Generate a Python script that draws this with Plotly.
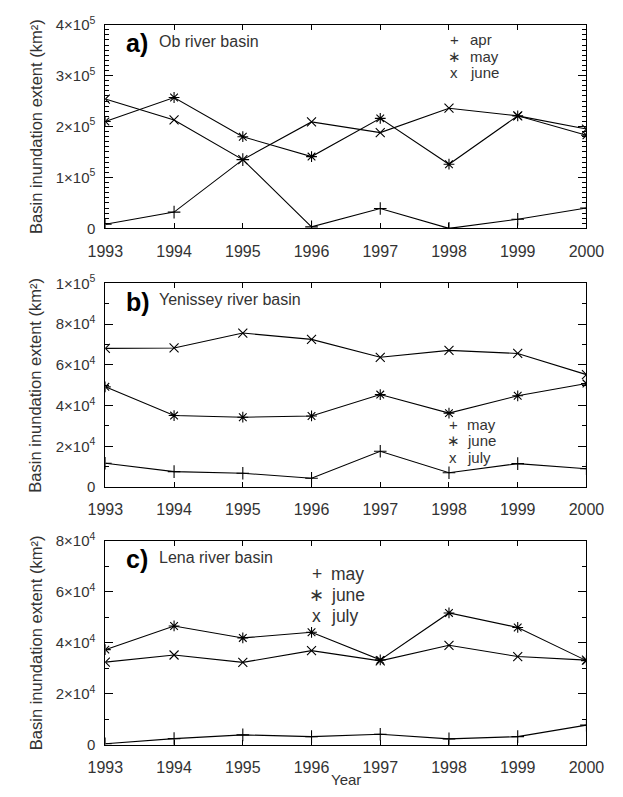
import plotly.graph_objects as go

# ---------------- data ----------------
years = [1993, 1994, 1995, 1996, 1997, 1998, 1999, 2000]

ob_apr = [8000, 32000, 135000, 3000, 39000, 0, 18000, 40000]
ob_may = [210000, 257000, 180000, 141000, 216000, 126000, 221000, 183000]
ob_june = [254000, 213000, 135000, 209000, 188000, 236000, 221000, 195000]

yen_may = [11700, 7600, 6800, 4300, 17600, 7000, 11500, 9000]
yen_june = [49200, 35100, 34300, 34900, 45400, 36300, 44800, 50800]
yen_july = [68100, 68300, 75600, 72500, 63700, 67100, 65600, 55200]

lena_may = [400, 2400, 3900, 3200, 4100, 2300, 3200, 7700]
lena_june = [37300, 46600, 41900, 44100, 33300, 51700, 46000, 33000]
lena_july = [32400, 35200, 32300, 36900, 32900, 39000, 34600, 33200]

ob_ticks = [0, 100000, 200000, 300000, 400000]
ob_ticktext = ["0", "1×10<sup>5</sup>", "2×10<sup>5</sup>", "3×10<sup>5</sup>", "4×10<sup>5</sup>"]
yen_ticks = [0, 20000, 40000, 60000, 80000, 100000]
yen_ticktext = ["0", "2×10<sup>4</sup>", "4×10<sup>4</sup>", "6×10<sup>4</sup>", "8×10<sup>4</sup>", "1×10<sup>5</sup>"]
lena_ticks = [0, 20000, 40000, 60000, 80000]
lena_ticktext = ["0", "2×10<sup>4</sup>", "4×10<sup>4</sup>", "6×10<sup>4</sup>", "8×10<sup>4</sup>"]

panel_tags = ["a)", "b)", "c)"]
panel_names = ["Ob river basin", "Yenissey river basin", "Lena river basin"]
legend_syms = ["+", "∗", "x"]
legend_a = ["apr", "may", "june"]
legend_b = ["may", "june", "july"]
legend_c = ["may", "june", "july"]
ytitle = "Basin inundation extent (km²)"
xtitle = "Year"

# ---------------- layout geometry ----------------
W, H = 623, 797
FONT = "Liberation Sans, Arial, sans-serif"
TXT = "#333333"

x_left, x_right = 92.7, 603.3
panels_px = [(14.0, 222.7), (279.0, 487.7), (542.7, 751.7)]  # top, bottom in px


def py(v):
    return 1 - v / H


def px(v):
    return v / W


fig = go.Figure()

series = [
    (ob_apr, ob_may, ob_june),
    (yen_may, yen_june, yen_july),
    (lena_may, lena_june, lena_july),
]
symbols = ["cross-thin-open", "asterisk-open", "x-thin-open"]
names_all = [legend_a, legend_b, legend_c]

for i, (grp, nms) in enumerate(zip(series, names_all)):
    xa = "x" if i == 0 else f"x{i+1}"
    ya = "y" if i == 0 else f"y{i+1}"
    for vals, sym, nm in zip(grp, symbols, nms):
        fig.add_trace(go.Scatter(
            x=years, y=vals, mode="lines+markers", name=nm,
            xaxis=xa, yaxis=ya, showlegend=False,
            line=dict(color="black", width=1.1),
            marker=dict(symbol=sym, size=9, color="black",
                        line=dict(color="black", width=1.1)),
        ))
    # empty trace so that the minor-tick overlay axis is drawn
    fig.add_trace(go.Scatter(x=[None], y=[None], xaxis=xa, yaxis=f"y{i+4}",
                             showlegend=False, hoverinfo="skip"))

yticks = [(ob_ticks, ob_ticktext, 400000, 10000),
          (yen_ticks, yen_ticktext, 100000, 10000),
          (lena_ticks, lena_ticktext, 80000, 10000)]

for i, ((top, bot), (tv, tt, ymax, mdt)) in enumerate(zip(panels_px, yticks)):
    sfx = "" if i == 0 else str(i + 1)
    msfx = str(i + 4)
    fig.update_layout(**{
        f"xaxis{sfx}": dict(
            domain=[px(x_left), px(x_right)], range=[1993, 2000],
            anchor=f"y{sfx}", tickmode="array", tickvals=years,
            ticktext=[str(y) for y in years],
            ticks="inside", ticklen=5, tickwidth=1, tickcolor="black",
            showline=True, linecolor="black", linewidth=1, mirror="ticks",
            showgrid=False, zeroline=False,
            tickfont=dict(family=FONT, size=16, color=TXT),
            ticklabelstandoff=8,
        ),
        f"yaxis{sfx}": dict(
            domain=[py(bot), py(top)], range=[0, ymax],
            anchor=f"x{sfx}", tickmode="array", tickvals=tv, ticktext=tt,
            ticks="inside", ticklen=8, tickwidth=1, tickcolor="black",
            showline=True, linecolor="black", linewidth=1, mirror="ticks",
            showgrid=False, zeroline=False,
            tickfont=dict(family=FONT, size=15, color=TXT),
            ticklabelstandoff=6,
        ),
        # overlay axis that only draws the minor tick marks
        f"yaxis{msfx}": dict(
            overlaying=f"y{sfx}", anchor=f"x{sfx}", side="left",
            range=[0, ymax], tickmode="linear", tick0=0, dtick=mdt,
            ticks="inside", ticklen=4, tickwidth=1, tickcolor="black",
            showticklabels=False, showline=True, linecolor="black",
            linewidth=1, mirror="ticks", showgrid=False, zeroline=False,
        ),
    })

annotations = []
# y titles
for (top, bot) in panels_px:
    annotations.append(dict(
        x=px(18.5), y=py((top + bot) / 2), xref="paper", yref="paper",
        text=ytitle, textangle=-90, showarrow=False,
        font=dict(family=FONT, size=16.5, color=TXT),
        xanchor="center", yanchor="middle"))

# panel tags and names
for (top, bot), tag, nm in zip(panels_px, panel_tags, panel_names):
    annotations.append(dict(
        x=px(113), y=py(top + 19), xref="paper", yref="paper",
        text=f"<b>{tag}</b>", showarrow=False,
        font=dict(family=FONT, size=25, color="black"),
        xanchor="left", yanchor="middle"))
    annotations.append(dict(
        x=px(147), y=py(top + 17), xref="paper", yref="paper",
        text=nm, showarrow=False,
        font=dict(family=FONT, size=16, color=TXT),
        xanchor="left", yanchor="middle"))

# legends: symbol and label as text, like the original
leg_specs = [
    (legend_a, 463, 479, [29.5, 46.5, 63.5], 15),
    (legend_b, 462, 475, [423.5, 440.5, 457.5], 15),
    (legend_c, 317, 331, [576.7, 598.3, 619.3], 17.5),
]
for items, sx, tx, lys, fs in leg_specs:
    for sym, txt, ly in zip(legend_syms, items, lys):
        annotations.append(dict(
            x=px(sx), y=py(ly), xref="paper", yref="paper",
            text=sym, showarrow=False,
            font=dict(family=FONT, size=fs, color=TXT),
            xanchor="center", yanchor="middle", borderpad=0))
        annotations.append(dict(
            x=px(tx), y=py(ly), xref="paper", yref="paper",
            text=txt, showarrow=False,
            font=dict(family=FONT, size=fs, color=TXT),
            xanchor="left", yanchor="middle", borderpad=0))

# x title
annotations.append(dict(
    x=px((x_left + x_right) / 2), y=py(787), xref="paper", yref="paper",
    text=xtitle, showarrow=False,
    font=dict(family=FONT, size=15, color=TXT),
    xanchor="center", yanchor="middle"))

fig.update_layout(
    width=W, height=H, margin=dict(l=0, r=0, t=0, b=0),
    paper_bgcolor="white", plot_bgcolor="white",
    annotations=annotations, showlegend=False,
)

fig.write_html("out.html")
